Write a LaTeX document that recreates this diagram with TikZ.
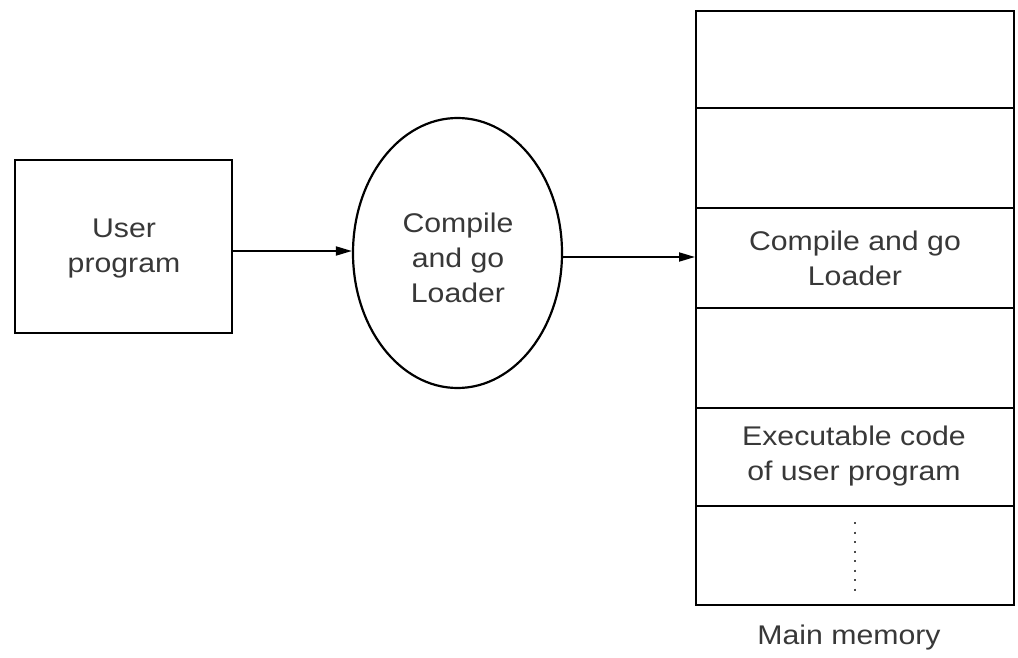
\documentclass[tikz,border=0pt]{standalone}
\usepackage{fontspec}
\setmainfont{Liberation Sans}[FakeStretch=1.12]
\usetikzlibrary{arrows.meta,shapes.geometric}
\tikzset{
  lbl/.style={font=\fontsize{27}{35}\selectfont, text=black!78, align=center},
  boxstyle/.style={draw, line width=2.2pt, inner sep=0pt},
  cell/.style={draw, line width=2.2pt, minimum width=318pt, anchor=north west, inner sep=0pt},
  arr/.style={line width=1.8pt, -{Triangle[length=16pt,width=9pt]}},
}
\begin{document}
\begin{tikzpicture}[x=1pt,y=-1pt]
\useasboundingbox (0,0) rectangle (1018,658);
% user program box
\node[boxstyle, minimum width=217pt, minimum height=173pt] (box) at (123.5,246.5) {};
\node[lbl] (boxtxt) at (124,249) {User\\program};
% ellipse
\node[draw, ellipse, line width=2.2pt, minimum width=209pt, minimum height=270pt, inner sep=0pt] (ell) at (457.5,253) {};
\node[lbl] (elltxt) at (458,258) {Compile\\and go\\Loader};
% memory cells
\node[cell, minimum height=97pt] (c1) at (695,10) {};
\node[cell, minimum height=100pt] (c2) at (695,107) {};
\node[cell, minimum height=100pt] (c3) at (695,207) {};
\node[cell, minimum height=100pt] (c4) at (695,307) {};
\node[cell, minimum height=98pt] (c5) at (695,407) {};
\node[cell, minimum height=99pt] (c6) at (695,505) {};
\node[lbl] (t3) at (855,258) {Compile and go\\Loader};
\node[lbl] (t5) at (854,456) {Executable code\\of user program};
\coordinate (d1) at (855,522);
\coordinate (d2) at (855,592);
\draw[line width=2pt, dash pattern=on 2pt off 7.5pt, black!70] (d1) -- (d2);
\node[lbl] (mm) at (849,638) {Main memory};
% arrows
\coordinate (a1s) at (232,251);
\draw[arr] (a1s) -- (ell.west |- a1s);
\coordinate (a2s) at (562,257);
\draw[arr] (a2s) -- (c3.west |- a2s);
\end{tikzpicture}
\end{document}
